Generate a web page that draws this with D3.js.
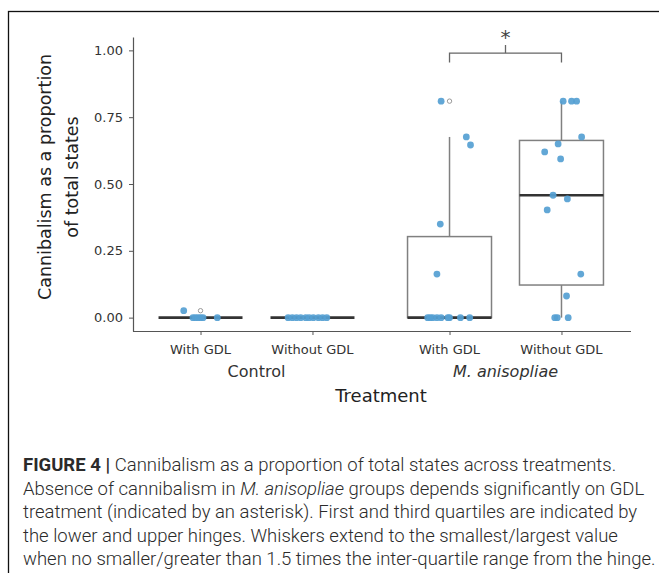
<!DOCTYPE html>
<html>
<head>
<meta charset="utf-8">
<script src="https://cdn.jsdelivr.net/npm/d3@7"></script>
<style>
  body { margin: 0; background: #fff; }
  svg { display: block; }
</style>
</head>
<body>
<svg id="chart" width="659" height="573"></svg>
<script>
// categories
const groups = ['Control', 'M. anisopliae'];
const gdlLevels = ['With GDL', 'Without GDL'];
const yTicks = [0, 0.25, 0.5, 0.75, 1.0];

// observed proportions per treatment, with the strip-plot jitter (fraction of box width)
const ctrlWith = [0.026, 0, 0, 0, 0, 0, 0];
const ctrlWithJit = [-0.20, -0.09, -0.06, -0.03, 0.00, 0.03, 0.20];
const ctrlWithout = [0, 0, 0, 0, 0, 0, 0, 0, 0, 0];
const ctrlWithoutJit = [-0.29, -0.24, -0.19, -0.14, -0.08, -0.04, 0.01, 0.07, 0.12, 0.17];
const maWith = [0.81, 0.676, 0.646, 0.35, 0.163, 0, 0, 0, 0, 0, 0, 0, 0, 0];
const maWithJit = [-0.10, 0.20, 0.25, -0.11, -0.15, -0.26, -0.23, -0.20, -0.15, -0.10, -0.02, 0.00, 0.13, 0.24];
const maWithout = [0.81, 0.81, 0.81, 0.676, 0.65, 0.62, 0.594, 0.458, 0.444, 0.403, 0.163, 0.081, 0, 0, 0];
const maWithoutJit = [0.02, 0.12, 0.18, 0.24, -0.04, -0.20, -0.01, -0.10, 0.07, -0.17, 0.23, 0.06, -0.08, -0.05, 0.08];

const series = [
  { group: 'Control', gdl: 'With GDL', values: ctrlWith, jitter: ctrlWithJit },
  { group: 'Control', gdl: 'Without GDL', values: ctrlWithout, jitter: ctrlWithoutJit },
  { group: 'M. anisopliae', gdl: 'With GDL', values: maWith, jitter: maWithJit },
  { group: 'M. anisopliae', gdl: 'Without GDL', values: maWithout, jitter: maWithoutJit }
];

const caption = [
  [{ t: 'FIGURE 4 | ', b: true }, { t: 'Cannibalism as a proportion of total states across treatments.' }],
  [{ t: 'Absence of cannibalism in ' }, { t: 'M. anisopliae', i: true }, { t: ' groups depends significantly on GDL' }],
  [{ t: 'treatment (indicated by an asterisk). First and third quartiles are indicated by' }],
  [{ t: 'the lower and upper hinges. Whiskers extend to the smallest/largest value' }],
  [{ t: 'when no smaller/greater than 1.5 times the inter-quartile range from the hinge.' }]
];

const svg = d3.select('#chart');
const axisFont = 'DejaVu Sans, Verdana, sans-serif';
const axisGrey = '#555';
const boxGrey = '#808080';

// frame round the figure
svg.append('rect')
  .attr('x', 8.5).attr('y', 11.5).attr('width', 700).attr('height', 600)
  .attr('fill', 'none').attr('stroke', '#111').attr('stroke-width', 1.3);

const plotLeft = 133, plotRight = 631, plotTop = 37, plotBottom = 331;

const y = d3.scaleLinear().domain([-0.05, 1.05]).range([plotBottom, plotTop]);
const xGroup = d3.scaleBand().domain(groups).range([plotLeft - 1, plotRight - 1]);
const xInner = d3.scaleBand().domain(gdlLevels).range([0, xGroup.bandwidth()])
  .paddingInner(0.25).paddingOuter(0.237);
const bw = xInner.bandwidth();
const cx = d => xGroup(d.group) + xInner(d.gdl) + bw / 2;

// y axis
const yAxis = svg.append('g')
  .attr('transform', `translate(${plotLeft},0)`)
  .call(d3.axisLeft(y).tickValues(yTicks).tickFormat(d3.format('.2f'))
    .tickSize(4).tickSizeOuter(0).tickPadding(6));
yAxis.select('.domain').attr('stroke', axisGrey).attr('stroke-width', 1.2);
yAxis.selectAll('.tick line').attr('stroke', axisGrey);
yAxis.selectAll('.tick text').attr('fill', '#333')
  .style('font-family', axisFont).style('font-size', '13px');

// x axis line and ticks
const xa = svg.append('g');
xa.append('line')
  .attr('x1', plotLeft).attr('x2', plotRight)
  .attr('y1', plotBottom + 0.5).attr('y2', plotBottom + 0.5)
  .attr('stroke', axisGrey).attr('stroke-width', 1.2);
xa.selectAll('line.tick').data(series).join('line')
  .attr('class', 'tick')
  .attr('x1', d => cx(d) + 0.5).attr('x2', d => cx(d) + 0.5)
  .attr('y1', plotBottom).attr('y2', plotBottom + 4)
  .attr('stroke', axisGrey);
xa.selectAll('text.tl').data(series).join('text')
  .attr('class', 'tl')
  .attr('x', d => cx(d)).attr('y', 354)
  .attr('text-anchor', 'middle').attr('fill', '#333')
  .style('font-family', axisFont).style('font-size', '13px')
  .text(d => d.gdl);
xa.selectAll('text.gl').data(groups).join('text')
  .attr('class', 'gl')
  .attr('x', d => xGroup(d) + xGroup.bandwidth() / 2).attr('y', 377)
  .attr('text-anchor', 'middle').attr('fill', '#333')
  .style('font-family', axisFont).style('font-size', '16px')
  .style('font-style', d => d === 'Control' ? 'normal' : 'italic')
  .text(d => d);
svg.append('text')
  .attr('x', (plotLeft + plotRight) / 2 - 1).attr('y', 402)
  .attr('text-anchor', 'middle').attr('fill', '#222')
  .style('font-family', axisFont).style('font-size', '18px')
  .text('Treatment');

// y title, two lines
const yTitle = svg.append('text')
  .attr('transform', 'translate(0,177) rotate(-90)')
  .attr('text-anchor', 'middle').attr('fill', '#222')
  .style('font-family', axisFont).style('font-size', '17.5px');
yTitle.append('tspan').attr('x', 0).attr('y', 51).text('Cannibalism as a proportion');
yTitle.append('tspan').attr('x', 0).attr('y', 78).text('of total states');

// box statistics (linear quantiles, 1.5 IQR whiskers)
series.forEach(s => {
  const v = s.values.slice().sort(d3.ascending);
  s.q1 = d3.quantileSorted(v, 0.25);
  s.med = d3.quantileSorted(v, 0.5);
  s.q3 = d3.quantileSorted(v, 0.75);
  const iqr = s.q3 - s.q1;
  const inside = v.filter(x => x >= s.q1 - 1.5 * iqr && x <= s.q3 + 1.5 * iqr);
  s.lo = d3.min(inside);
  s.hi = d3.max(inside);
  s.fliers = v.filter(x => x < s.lo || x > s.hi);
});

const boxes = svg.append('g').selectAll('g').data(series).join('g');
boxes.append('line')
  .attr('x1', cx).attr('x2', cx)
  .attr('y1', d => y(d.q3)).attr('y2', d => y(d.hi))
  .attr('stroke', boxGrey).attr('stroke-width', 1.5);
boxes.append('line')
  .attr('x1', cx).attr('x2', cx)
  .attr('y1', d => y(d.q1)).attr('y2', d => y(d.lo))
  .attr('stroke', boxGrey).attr('stroke-width', 1.5);
boxes.append('rect')
  .attr('x', d => cx(d) - bw / 2).attr('width', bw)
  .attr('y', d => y(d.q3)).attr('height', d => y(d.q1) - y(d.q3))
  .attr('fill', '#fff').attr('stroke', boxGrey).attr('stroke-width', 1.5);
boxes.append('line')
  .attr('x1', d => cx(d) - bw / 2).attr('x2', d => cx(d) + bw / 2)
  .attr('y1', d => y(d.med)).attr('y2', d => y(d.med))
  .attr('stroke', '#333').attr('stroke-width', 2.6);
boxes.selectAll('circle.flier').data(d => d.fliers.map(f => ({ s: d, v: f }))).join('circle')
  .attr('class', 'flier')
  .attr('cx', d => cx(d.s)).attr('cy', d => y(d.v)).attr('r', 2.2)
  .attr('fill', 'none').attr('stroke', '#999').attr('stroke-width', 1);

// strip points
const pts = series.flatMap(s => s.values.map((v, i) => ({ s, v, j: s.jitter[i] })));
svg.append('g').selectAll('circle').data(pts).join('circle')
  .attr('cx', d => cx(d.s) + d.j * bw).attr('cy', d => y(d.v)).attr('r', 3.4)
  .attr('fill', '#55a0d3').attr('fill-opacity', 0.92);

// significance bracket between the two M. anisopliae groups
const sA = series[2], sB = series[3];
const br = svg.append('g').attr('stroke', '#666').attr('stroke-width', 1.3).attr('fill', 'none');
br.append('path')
  .attr('d', `M${cx(sA)},${y(0.955)}V${y(0.99)}H${cx(sB)}V${y(0.955)}`);
br.append('line')
  .attr('x1', (cx(sA) + cx(sB)) / 2).attr('x2', (cx(sA) + cx(sB)) / 2)
  .attr('y1', y(0.99)).attr('y2', y(1.02));
svg.append('text')
  .attr('x', (cx(sA) + cx(sB)) / 2).attr('y', y(1.02) - 1)
  .attr('text-anchor', 'middle').attr('fill', '#444')
  .style('font-family', axisFont).style('font-size', '20px')
  .text('*');

// caption
const cap = svg.append('text')
  .attr('fill', '#2b2b2b')
  .style('font-family', 'Roboto, Liberation Sans, Arial, sans-serif')
  .style('font-weight', 300)
  .style('font-size', '18.5px');
caption.forEach((line, k) => {
  line.forEach((part, p) => {
    const t = cap.append('tspan').text(part.t);
    if (p === 0) t.attr('x', 23).attr('y', 471 + k * 23.5);
    if (part.b) t.style('font-weight', 700);
    if (part.i) t.style('font-style', 'italic');
  });
});
</script>
</body>
</html>
